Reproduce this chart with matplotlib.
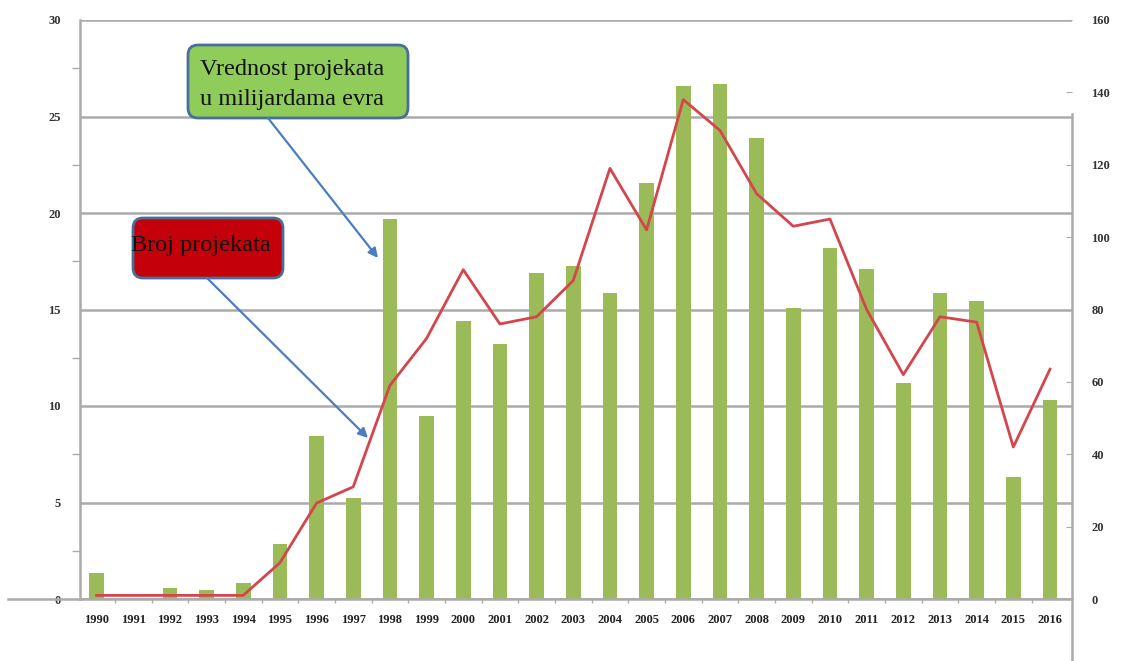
import matplotlib
matplotlib.use("Agg")
import matplotlib.pyplot as plt
from matplotlib.patches import FancyBboxPatch
from matplotlib.lines import Line2D
import numpy as np

years = [str(y) for y in range(1990, 2017)]
value_bn_eur = [1.35, 0.0, 0.57, 0.47, 0.83, 2.85, 8.45, 5.25, 19.7, 9.5,
                14.4, 13.2, 16.9, 17.25, 15.85, 21.55, 26.6, 26.7, 23.9, 15.1,
                18.2, 17.1, 11.2, 15.85, 15.45, 6.3, 10.3]
project_count = [1, 1, 1, 1, 1, 10, 26.5, 31, 59, 72,
                 91, 76, 78, 88, 119, 102, 138, 129.5, 112, 103,
                 105, 80, 62, 78, 76.5, 42, 63.5]
left_ticks = [0, 5, 10, 15, 20, 25, 30]
right_ticks = [0, 20, 40, 60, 80, 100, 120, 140, 160]

W, H = 1140, 661
fig = plt.figure(figsize=(W / 100, H / 100), dpi=100)
fig.patch.set_facecolor("white")

x0, x1, ytop, ybot = 80, 1072, 20, 599
ax = fig.add_axes([x0 / W, 1 - ybot / H, (x1 - x0) / W, (ybot - ytop) / H])
xs = np.arange(len(years))
grid_c = "#ABABAB"
ax.bar(xs, value_bn_eur, width=0.4, color="#9BBB59", zorder=2)
ax.set_xlim(-0.45, 26.6)
ax.set_ylim(0, 30)
ax.set_yticks(left_ticks)
ax.set_yticks(np.arange(2.5, 30, 5), minor=True)
ax.yaxis.grid(True, color=grid_c, lw=1.8, zorder=0)
ax.set_axisbelow(True)
ax.set_xticks(xs)
ax.set_xticks(xs[:-1] + 0.5, minor=True)
ax.set_xticklabels(years)
for s in ["top", "right"]:
    ax.spines[s].set_visible(False)
for s in ["left", "bottom"]:
    ax.spines[s].set_color(grid_c)
    ax.spines[s].set_linewidth(1.8)
ax.tick_params(axis="x", which="major", length=0, pad=11)
ax.tick_params(axis="x", which="minor", length=3, color=grid_c, width=1)
ax.tick_params(axis="y", which="both", length=6, color=grid_c, width=1, pad=14)
ax.tick_params(axis="y", which="major", length=0)
for lab in ax.get_xticklabels():
    lab.set_fontfamily("Liberation Serif")
    lab.set_fontweight("bold")
    lab.set_fontsize(9)
    lab.set_color("#222222")
for lab in ax.get_yticklabels():
    lab.set_fontfamily("Liberation Serif")
    lab.set_fontweight("bold")
    lab.set_fontsize(9)
    lab.set_color("#333333")

ax2 = ax.twinx()
ax2.plot(xs, project_count, color="#D4454C", lw=2.0, zorder=3)
ax2.set_ylim(0, 160)
ax2.set_yticks(right_ticks)
for s in ["top", "left", "bottom"]:
    ax2.spines[s].set_visible(False)
ax2.spines["right"].set_color(grid_c)
ax2.spines["right"].set_linewidth(1.8)
ax2.spines["right"].set_bounds(-17, 134)
ax2.tick_params(axis="y", length=4, direction="in", color=grid_c, pad=14)
for lab in ax2.get_yticklabels():
    lab.set_fontfamily("Liberation Serif")
    lab.set_fontweight("bold")
    lab.set_fontsize(9)
    lab.set_color("#333333")

# overlay in pixel coordinates for annotations
ov = fig.add_axes([0, 0, 1, 1], zorder=10)
ov.set_xlim(0, W)
ov.set_ylim(H, 0)
ov.axis("off")
ov.patch.set_alpha(0)

ov.add_line(Line2D([8, 80], [599, 599], color=grid_c, lw=1.8))

green = FancyBboxPatch((188, 45), 220, 73,
                       boxstyle="round,pad=0,rounding_size=10",
                       fc="#8FCC5A", ec="#4A6E9A", lw=2)
ov.add_patch(green)
ov.text(200, 69, "Vrednost projekata", fontfamily="Liberation Serif",
        fontsize=17.5, va="center", ha="left", color="#111111")
ov.text(200, 100, "u milijardama evra", fontfamily="Liberation Serif",
        fontsize=17.5, va="center", ha="left", color="#111111")

red = FancyBboxPatch((133, 218), 150, 60,
                     boxstyle="round,pad=0,rounding_size=10",
                     fc="#C4000B", ec="#4A6E9A", lw=2)
ov.add_patch(red)
ov.text(131, 246, "Broj projekata", fontfamily="Liberation Serif",
        fontsize=17.5, va="center", ha="left", color="#111111")

arrow = dict(arrowstyle="-|>", color="#4A7EC0", lw=1.6, mutation_scale=14,
             shrinkA=0, shrinkB=0)
ov.annotate("", xy=(378, 258), xytext=(268, 118), arrowprops=arrow)
ov.annotate("", xy=(368, 438), xytext=(207, 278), arrowprops=arrow)

fig.savefig("out.png", dpi=100)
